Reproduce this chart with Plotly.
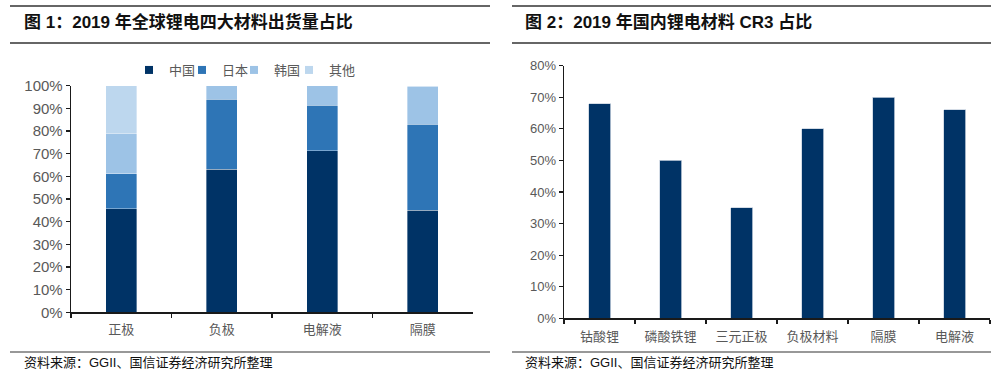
import plotly.graph_objects as go

# ---- Figure 1 data: 2019 global shipment share of four Li-battery materials
cats1 = ["正极", "负极", "电解液", "隔膜"]
china = [0.456, 0.632, 0.712, 0.451]
japan = [0.155, 0.309, 0.201, 0.380]
korea = [0.176, 0.059, 0.087, 0.165]
other = [0.213, 0.000, 0.000, 0.004]
series_names = ["中国", "日本", "韩国", "其他"]
series_colors = ["#003366", "#2E75B6", "#9DC3E6", "#BDD7EE"]

# ---- Figure 2 data: 2019 domestic Li-battery materials CR3
cats2 = ["钴酸锂", "磷酸铁锂", "三元正极", "负极材料", "隔膜", "电解液"]
cr3 = [0.68, 0.50, 0.35, 0.60, 0.70, 0.66]

y1_ticks = [i / 10 for i in range(11)]
y2_ticks = [i / 10 for i in range(9)]

title1 = "图 1：2019 年全球锂电四大材料出货量占比"
title2 = "图 2：2019 年国内锂电材料 CR3 占比"
source = "资料来源：GGII、国信证券经济研究所整理"

W, H = 1000, 376
FONT = "Liberation Sans, Arial, Noto Sans CJK SC, sans-serif"
GREY = "#595959"

def px(x):
    return x / W

def py(y):
    return 1 - y / H

fig = go.Figure()

legend_ids = ["legend", "legend2", "legend3", "legend4"]
for name, vals, col, lg in zip(series_names, [china, japan, korea, other], series_colors, legend_ids):
    fig.add_trace(go.Bar(
        x=cats1, y=vals, name=name,
        marker=dict(color=col, line=dict(color="rgba(255,255,255,0.6)", width=0.6)),
        xaxis="x", yaxis="y", showlegend=False, hoverinfo="skip",
    ))
    # legend entry with a small square symbol
    fig.add_trace(go.Scatter(
        x=[None], y=[None], name=name, mode="markers",
        marker=dict(symbol="square", size=8, color=col),
        xaxis="x", yaxis="y", legend=lg, showlegend=True, hoverinfo="skip",
    ))

fig.add_trace(go.Bar(
    x=cats2, y=cr3, name="CR3", marker=dict(color="#003366", line=dict(color="#c9d3e0", width=0.8)),
    xaxis="x2", yaxis="y2", showlegend=False, hoverinfo="skip",
))

axis_common = dict(showline=True, linecolor="#1a1a1a", linewidth=1.3, showgrid=False, zeroline=False,
                   ticks="outside", ticklen=4, tickwidth=1.2, tickcolor="#1a1a1a")

fig.update_layout(
    width=W, height=H, margin=dict(l=0, r=0, t=0, b=0, autoexpand=False),
    paper_bgcolor="white", plot_bgcolor="white", hovermode=False,
    barmode="stack", bargap=0.69,
    font=dict(family=FONT, color=GREY, size=13),
    xaxis=dict(domain=[px(71), px(473)], anchor="y", type="category", tickson="boundaries",
               tickfont=dict(size=13, color=GREY), ticklabelstandoff=5, **axis_common),
    yaxis=dict(domain=[py(312.3), py(85.7)], anchor="x", range=[0, 1], tickvals=y1_ticks,
               tickformat=".0%", tickfont=dict(size=15, color=GREY), **axis_common),
    xaxis2=dict(domain=[px(564), px(990)], anchor="y2", type="category", tickson="boundaries",
                tickfont=dict(size=13, color=GREY), ticklabelstandoff=6, **axis_common),
    yaxis2=dict(domain=[py(318.3), py(65.7)], anchor="x2", range=[0, 0.8], tickvals=y2_ticks,
                tickformat=".0%", tickfont=dict(size=13, color=GREY), **axis_common),
)

leg_x = [129, 182, 234, 289]
for lg, lx in zip(legend_ids, leg_x):
    fig.update_layout({lg: dict(x=px(lx), xanchor="left", y=py(70), yanchor="middle", orientation="h",
                                bgcolor="rgba(0,0,0,0)", font=dict(size=13, color=GREY),
                                itemwidth=30)})

# header / footer rules
for x0, x1 in [(10, 490), (512, 991)]:
    for yy in [6, 43]:
        fig.add_shape(type="line", xref="paper", yref="paper", x0=px(x0), x1=px(x1), y0=py(yy), y1=py(yy),
                      line=dict(color="#333333", width=1.6))
    fig.add_shape(type="line", xref="paper", yref="paper", x0=px(x0), x1=px(x1), y0=py(352), y1=py(352),
                  line=dict(color="#333333", width=1.2))

for tx, t in [(22, title1), (523, title2)]:
    fig.add_annotation(x=px(tx), y=py(22), xref="paper", yref="paper", xanchor="left", yanchor="middle",
                       text="<b>" + t + "</b>", showarrow=False,
                       font=dict(family=FONT, size=17, color="#111111"))
for tx in [22, 523]:
    fig.add_annotation(x=px(tx), y=py(362), xref="paper", yref="paper", xanchor="left", yanchor="middle",
                       text=source, showarrow=False, font=dict(family=FONT, size=13, color="#111111"))

fig.write_html("out.html", config={"displayModeBar": False, "staticPlot": True},
               post_script="document.body.style.margin='0';document.body.style.overflow='hidden';")
